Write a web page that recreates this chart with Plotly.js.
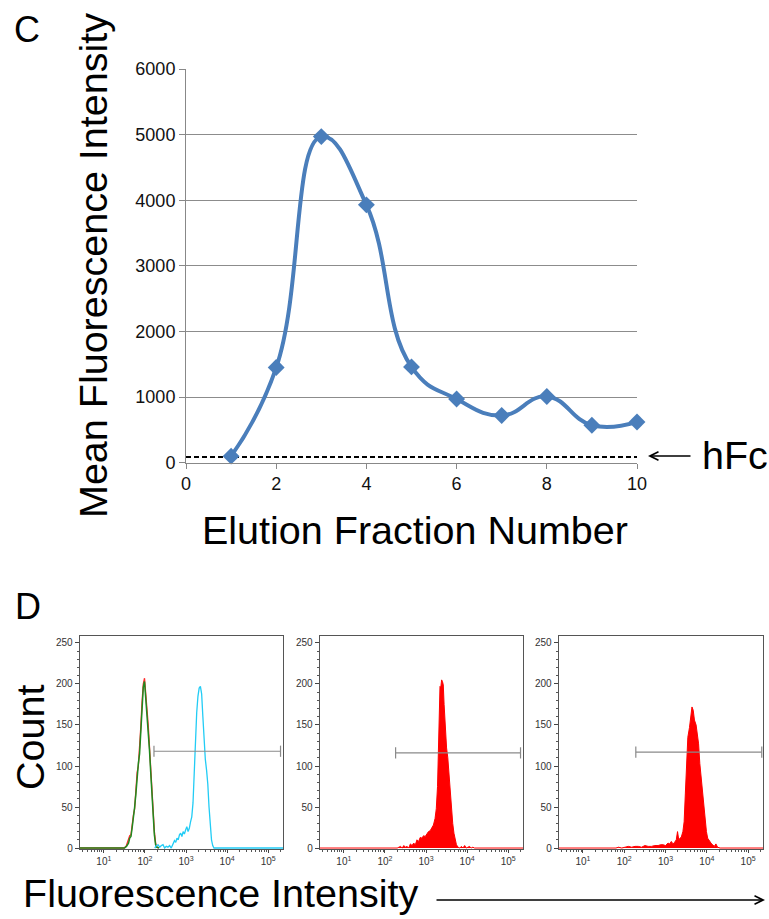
<!DOCTYPE html>
<html>
<head>
<meta charset="utf-8">
<script src="https://cdn.plot.ly/plotly-3.0.1.min.js"></script>
<style>html,body{margin:0;padding:0;background:#fff;}#chart{width:769px;height:919px;}</style>
</head>
<body>
<div id="chart"></div>
<script>
// ---------- Panel C data ----------
const fractions = [1, 2, 3, 4, 5, 6, 7, 8, 9, 10];
const meanFluor = [100, 1450, 4970, 3930, 1460, 970, 720, 1010, 570, 620];
const hFcX = [0, 10];
const hFcY = [85, 85];
const cTickVals = [0, 2, 4, 6, 8, 10];

// ---------- Panel D data (bin positions in log10 units, counts) ----------
const p1RedLog = [0.42, 1.50, 1.55, 1.60, 1.63, 1.66, 1.69, 1.72, 1.75, 1.78, 1.81, 1.84, 1.87, 1.90, 1.93, 1.96, 1.99, 2.02, 2.05, 2.08, 2.11, 2.14, 2.17, 2.20, 2.23, 2.26, 2.29, 2.34];
const p1RedCnt = [0, 0, 3, 10, 15, 16, 30, 40, 48, 70, 92, 100, 120, 148, 178, 200, 207, 190, 170, 150, 124, 96, 66, 40, 20, 6, 1, 0];
const p1GreenLog = [0.42, 1.50, 1.55, 1.60, 1.63, 1.66, 1.69, 1.72, 1.75, 1.78, 1.81, 1.84, 1.87, 1.90, 1.93, 1.96, 1.99, 2.02, 2.05, 2.08, 2.11, 2.14, 2.17, 2.20, 2.23, 2.26, 2.29, 2.34];
const p1GreenCnt = [0, 0, 2, 6, 12, 14, 25, 36, 50, 66, 88, 103, 115, 140, 172, 196, 203, 185, 165, 145, 120, 93, 62, 36, 16, 4, 1, 0];
const p1CyanLog = [2.24, 2.28, 2.32, 2.36, 2.40, 2.44, 2.48, 2.52, 2.56, 2.60, 2.64, 2.68, 2.72, 2.75, 2.78, 2.81, 2.84, 2.87, 2.90, 2.93, 2.96, 2.99, 3.02, 3.05, 3.08, 3.11, 3.14, 3.17, 3.20, 3.23, 3.26, 3.29, 3.32, 3.35, 3.38, 3.41, 3.44, 3.47, 3.50, 3.53, 3.56, 3.59, 3.62, 3.65, 3.68, 3.75, 5.36];
const p1CyanCnt = [0, 3, 4, 1, 3, 4, 0, 2, 1, 3, 0, 5, 9, 7, 12, 10, 16, 18, 14, 20, 17, 22, 26, 20, 24, 32, 38, 55, 95, 130, 165, 185, 195, 197, 188, 160, 125, 108, 95, 78, 50, 25, 10, 3, 0, 0, 0];

const p2Log = [0.42, 2.30, 2.34, 2.38, 2.42, 2.46, 2.50, 2.54, 2.58, 2.62, 2.66, 2.70, 2.74, 2.78, 2.82, 2.86, 2.90, 2.94, 2.98, 3.02, 3.06, 3.10, 3.14, 3.18, 3.22, 3.25, 3.28, 3.30, 3.32, 3.34, 3.36, 3.38, 3.40, 3.42, 3.44, 3.46, 3.48, 3.50, 3.53, 3.56, 3.59, 3.62, 3.65, 3.68, 3.71, 3.74, 3.78, 3.82, 3.86, 3.90, 3.94, 3.98, 4.02, 4.06, 4.10, 4.14, 4.18, 4.22, 5.36];
const p2Cnt = [0, 0, 1, 2, 0, 3, 1, 2, 0, 5, 3, 6, 4, 10, 8, 13, 12, 15, 14, 17, 20, 21, 24, 28, 36, 48, 75, 110, 150, 197, 196, 205, 203, 199, 175, 150, 135, 122, 110, 90, 68, 45, 30, 18, 10, 4, 1, 0, 2, 0, 3, 0, 1, 2, 0, 1, 0, 0, 0];

const p3Log = [0.42, 1.80, 1.86, 1.94, 2.02, 2.10, 2.18, 2.26, 2.34, 2.42, 2.50, 2.58, 2.66, 2.74, 2.82, 2.88, 2.94, 3.00, 3.06, 3.10, 3.14, 3.18, 3.22, 3.26, 3.29, 3.32, 3.35, 3.38, 3.42, 3.45, 3.48, 3.51, 3.54, 3.58, 3.61, 3.64, 3.67, 3.70, 3.74, 3.77, 3.80, 3.83, 3.86, 3.90, 3.93, 3.96, 3.99, 4.02, 4.06, 4.10, 4.14, 4.18, 4.22, 4.26, 4.32, 5.36];
const p3Cnt = [0, 0, 1, 0, 1, 2, 1, 2, 2, 1, 3, 2, 2, 3, 3, 4, 4, 3, 6, 5, 8, 5, 7, 10, 20, 10, 12, 13, 20, 32, 67, 107, 135, 147, 162, 172, 168, 156, 150, 139, 127, 103, 87, 67, 52, 32, 20, 12, 8, 6, 4, 2, 5, 1, 0, 0];

const gate1Log = [2.22, 5.30], gate1Cnt = [118, 118];
const gate2Log = [2.26, 5.30], gate2Cnt = [116, 116];
const gate3Log = [2.28, 5.33], gate3Cnt = [117, 117];

const dTickVals = [10, 100, 1000, 10000, 100000];
const dTickText = ['10<sup>1</sup>', '10<sup>2</sup>', '10<sup>3</sup>', '10<sup>4</sup>', '10<sup>5</sup>'];
const dYTicks = [0, 50, 100, 150, 200, 250];

// ---------- helpers ----------
const lin = a => a.map(v => Math.pow(10, v));
const W = 769, H = 919;
const px = x => x / W;
const py = y => 1 - y / H;
const FONT = 'Liberation Sans, Arial, sans-serif';
const blue = '#4a7ebb';

const traces = [];
// Panel C
traces.push({x: hFcX, y: hFcY, xaxis: 'x', yaxis: 'y', mode: 'lines',
  line: {color: '#000', width: 2, dash: '5px,3px'}, hoverinfo: 'skip'});
traces.push({x: fractions, y: meanFluor, xaxis: 'x', yaxis: 'y', mode: 'lines+markers', cliponaxis: false,
  line: {color: blue, width: 4, shape: 'spline', smoothing: 1.3},
  marker: {symbol: 'diamond', size: 13, color: blue}});

// Panel D1
traces.push({x: lin(p1RedLog), y: p1RedCnt, xaxis: 'x2', yaxis: 'y2', mode: 'lines', line: {color: '#ff2a2a', width: 1.3}});
traces.push({x: lin(p1GreenLog), y: p1GreenCnt, xaxis: 'x2', yaxis: 'y2', mode: 'lines', line: {color: '#1f8a1f', width: 1.5}});
traces.push({x: lin(p1CyanLog), y: p1CyanCnt, xaxis: 'x2', yaxis: 'y2', mode: 'lines', line: {color: '#22ccf5', width: 1.3}});
// Panel D2
traces.push({x: lin(p2Log), y: p2Cnt, xaxis: 'x3', yaxis: 'y3', mode: 'lines', fill: 'tozeroy',
  fillcolor: '#ff0000', line: {color: '#ff0000', width: 1}});
// Panel D3
traces.push({x: lin(p3Log), y: p3Cnt, xaxis: 'x4', yaxis: 'y4', mode: 'lines', fill: 'tozeroy',
  fillcolor: '#ff0000', line: {color: '#ff0000', width: 1}});
// gates
[[gate1Log, gate1Cnt, 'x2', 'y2'], [gate2Log, gate2Cnt, 'x3', 'y3'], [gate3Log, gate3Cnt, 'x4', 'y4']].forEach(g => {
  traces.push({x: lin(g[0]), y: g[1], xaxis: g[2], yaxis: g[3], mode: 'lines+markers',
    line: {color: '#8a8a8a', width: 1.2},
    marker: {symbol: 'line-ns-open', size: 8, color: '#8a8a8a', line: {color: '#8a8a8a', width: 1.2}}});
});

const dYDomain = [py(849), py(636)];
function dX(domain) {
  return {type: 'log', domain: domain, range: [0.42, 5.36], tickmode: 'array', tickvals: dTickVals, ticktext: dTickText,
    ticks: 'outside', ticklen: 3, tickcolor: '#444', tickwidth: 1,
    minor: {ticks: 'outside', ticklen: 2, tickcolor: '#555', dtick: 'D1', showgrid: false},
    showline: true, mirror: true, linecolor: '#555', linewidth: 1.3, showgrid: false, zeroline: false,
    tickfont: {family: FONT, size: 10, color: '#333'}, fixedrange: true};
}
function dY(anchor) {
  return {domain: dYDomain, range: [-1.2, 258.5], anchor: anchor, tickmode: 'array', tickvals: dYTicks,
    ticks: 'outside', ticklen: 4, tickcolor: '#444', tickwidth: 1,
    minor: {ticks: 'outside', ticklen: 2, tickcolor: '#555', dtick: 10, showgrid: false},
    showline: true, mirror: true, linecolor: '#555', linewidth: 1.3, showgrid: false, zeroline: false,
    tickfont: {family: FONT, size: 10, color: '#333'}, fixedrange: true};
}

function label(text, x, y, size, angle) {
  const a = {text: text, xref: 'paper', yref: 'paper', x: px(x), y: py(y), xanchor: 'center', yanchor: 'middle',
    showarrow: false, font: {family: FONT, size: size, color: '#000'}};
  if (angle) a.textangle = angle;
  return a;
}
function arrow(x, y, ax) {
  return {text: '', xref: 'paper', yref: 'paper', x: px(x), y: py(y), ax: ax, ay: 0, showarrow: true,
    arrowhead: 5, arrowsize: 1.3, arrowwidth: 1.3, arrowcolor: '#000'};
}

const layout = {
  width: W, height: H, margin: {l: 0, r: 0, t: 0, b: 0},
  paper_bgcolor: '#fff', plot_bgcolor: '#fff', showlegend: false,
  font: {family: FONT, color: '#111'},
  xaxis: {domain: [px(186), px(637)], range: [0, 10], anchor: 'y', tickmode: 'array', tickvals: cTickVals,
    ticks: 'outside', ticklen: 5, tickcolor: '#888', showline: true, linecolor: '#888', linewidth: 1,
    showgrid: false, zeroline: false, tickfont: {family: FONT, size: 18, color: '#111'}},
  yaxis: {domain: [py(462.7), py(69)], range: [0, 6000], anchor: 'x', dtick: 1000, tick0: 0,
    ticks: 'outside', ticklen: 6, tickcolor: '#888', showline: true, linecolor: '#888', linewidth: 1,
    showgrid: true, gridcolor: '#8c8c8c', gridwidth: 1, zeroline: false,
    tickfont: {family: FONT, size: 18, color: '#111'}},
  xaxis2: Object.assign(dX([px(80), px(283)]), {anchor: 'y2'}),
  yaxis2: dY('x2'),
  xaxis3: Object.assign(dX([px(320), px(523)]), {anchor: 'y3'}),
  yaxis3: dY('x3'),
  xaxis4: Object.assign(dX([px(559), px(763)]), {anchor: 'y4'}),
  yaxis4: dY('x4'),
  annotations: [
    label('C', 27, 29, 36),
    label('Mean Fluorescence Intensity', 93, 266, 39.5, -90),
    label('Elution Fraction Number', 415, 530, 39.5),
    label('hFc', 735, 455, 39.5),
    arrow(648, 456, 44),
    label('D', 28, 606, 36),
    label('Count', 30, 738, 39.5, -90),
    label('Fluorescence Intensity', 220, 893, 39.5),
    arrow(765, 900, -330)
  ]
};

Plotly.newPlot('chart', traces, layout, {staticPlot: true, displayModeBar: false});
</script>
</body>
</html>
